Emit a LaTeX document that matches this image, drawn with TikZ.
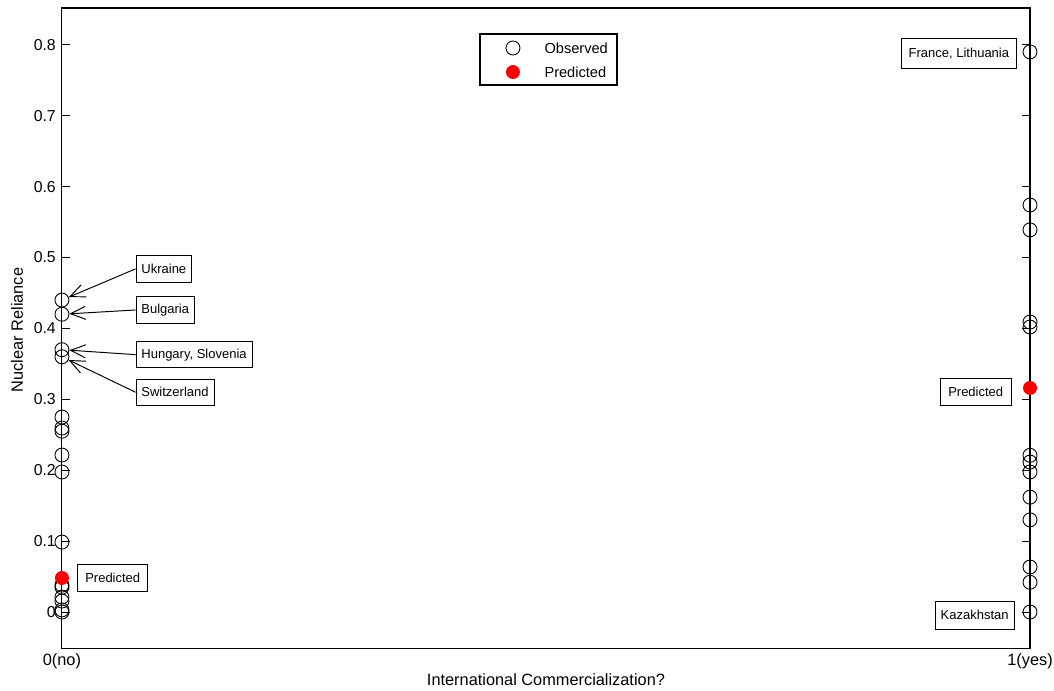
\documentclass[tikz,border=0pt]{standalone}
\usepackage{fontspec}
\setmainfont{Liberation Sans}
\usetikzlibrary{positioning,arrows.meta}
\begin{document}
\begin{tikzpicture}[
		x=19.36cm, y=14.18cm,
		obs/.style={circle,draw,line width=0.5pt,minimum size=2.8mm,inner sep=0pt},
		pred/.style={circle,fill=red,minimum size=2.8mm,inner sep=0pt},
		lab/.style={draw,line width=0.5pt,font=\fontsize{7.4}{8}\selectfont,minimum height=5.3mm,inner xsep=3.1pt},
		edge/.style={-{Straight Barb[length=3mm,width=2.6mm]},line width=0.55pt},
		ticklab/.style={font=\fontsize{9}{10}\selectfont},
		axlab/.style={font=\fontsize{9.3}{11}\selectfont}
		]
		\useasboundingbox (-0.0640,-0.1100) rectangle (1.0248,0.8632);
		\draw[line width=0.6pt] (0,-0.0508) rectangle (1,0.8519);
		\foreach \v/\t [count=\i] in {0/0,0.1/0.1,0.2/0.2,0.3/0.3,0.4/0.4,0.5/0.5,0.6/0.6,0.7/0.7,0.8/0.8} {
			\draw[line width=0.5pt] (0,\v) -- ++(0.16cm,0);
			\draw[line width=0.5pt] (1,\v) -- ++(-0.16cm,0);
			\node[ticklab,anchor=east] (ty\i) at (0,\v) {\t};
		}
		
		\foreach \v [count=\i] in {0.44,0.42,0.37,0.36,0.275,0.2595,0.255,0.2214,0.1975,0.0987,0.038,0.035,0.021,0.0155,0.003,0}
			\node[obs] (l\i) at (0,\v) {};
		\foreach \v [count=\i] in {0.79,0.574,0.539,0.409,0.402,0.221,0.2115,0.1975,0.162,0.13,0.0635,0.042,0}
			\node[obs] (r\i) at (1,\v) {};
		\node[pred] (lp) at (0,0.048) {};
		\node[pred] (rp) at (1,0.316) {};
		
		\node[lab, anchor=west] (ukr) at (0.076,0.484) {Ukraine};
		\node[lab, anchor=west] (bul) at (0.076,0.426) {Bulgaria};
		\node[lab, anchor=west] (hun) at (0.076,0.363) {Hungary, Slovenia};
		\node[lab, anchor=west] (swi) at (0.076,0.310) {Switzerland};
		\node[lab, minimum width=1.4cm, right=0.16cm of lp] (lpl) {Predicted};
		\node[lab, minimum height=6mm, inner xsep=4pt, left=0.12cm of r1, yshift=-0.03cm] (frl) {France, Lithuania};
		\node[lab, minimum width=1.42cm, left=0.22cm of rp, yshift=-0.08cm] (rpl) {Predicted};
		\node[lab, minimum height=5.6mm, left=0.16cm of r13, yshift=-0.06cm] (kzl) {Kazakhstan};
		
		\draw[edge] (ukr.west) -- (l1);
		\draw[edge] (bul.west) -- (l2);
		\draw[edge] (hun.west) -- (l3);
		\draw[edge] (swi.west) -- (l4);
		
		\node[draw, line width=0.6pt, minimum width=2.74cm, minimum height=1.02cm] (leg) at (0.5026,0.7793) {};
		\node[obs] (lgo) at (0.4659,0.7955) {};
		\node[pred] (lgp) at (0.4659,0.7616) {};
		\node[font=\fontsize{8.3}{10}\selectfont, right=0.36cm of lgo] (lgot) {Observed};
		\node[font=\fontsize{8.3}{10}\selectfont, right=0.36cm of lgp] (lgpt) {Predicted};
		
		\node[axlab, rotate=90] (ylab) at (-0.0465,0.3978) {Nuclear Reliance};
		\node[axlab] (xlab) at (0.5,-0.0959) {International Commercialization?};
		\node[axlab] (x0) at (0,-0.0691) {0(no)};
		\node[axlab] (x1) at (1,-0.0691) {1(yes)};
	\end{tikzpicture}
\end{document}
